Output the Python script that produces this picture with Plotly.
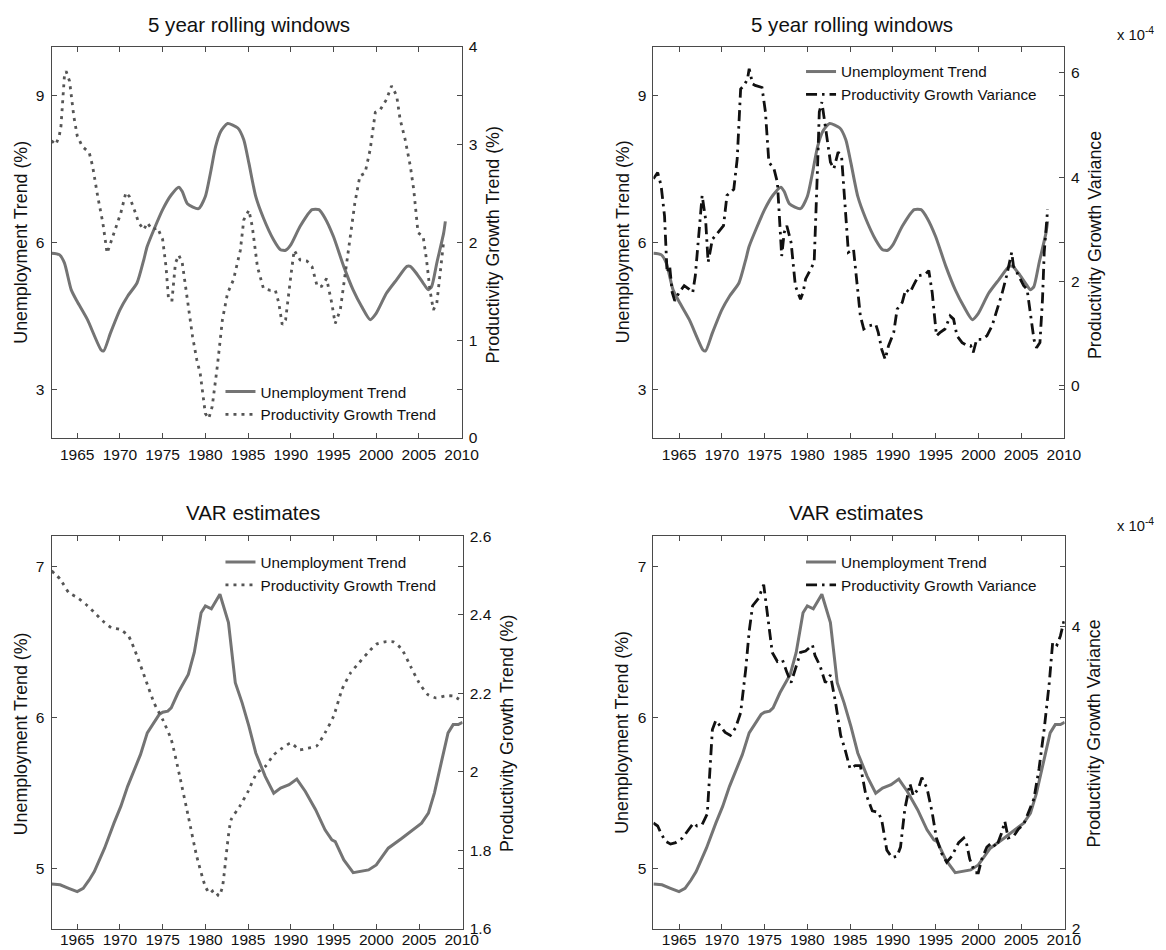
import plotly.graph_objects as go

# ---------------- data ----------------
# Top row: 5 year rolling windows
u5_years = [1962.0, 1962.9, 1963.5, 1964.3, 1965.0, 1966.2, 1967.8, 1968.1, 1968.9, 1970.0,
            1970.9, 1972.0, 1972.8, 1973.2, 1975.0, 1976.0, 1976.9, 1977.3, 1977.9, 1979.2,
            1980.0, 1980.6, 1981.2, 1981.8, 1982.6, 1983.8, 1984.5, 1985.1, 1985.9, 1986.8,
            1988.0, 1988.8, 1989.4, 1990.0, 1991.1, 1992.5, 1993.3, 1994.0, 1995.0, 1996.2,
            1997.3, 1998.3, 1999.3, 2000.0, 2001.2, 2002.4, 2003.6, 2004.0, 2004.7, 2005.5,
            2006.1, 2006.5, 2007.1, 2007.9, 2008.1]
u5_vals = [5.78, 5.75, 5.58, 5.03, 4.79, 4.42, 3.80, 3.78, 4.15, 4.62,
           4.90, 5.17, 5.65, 5.92, 6.67, 6.97, 7.13, 7.04, 6.79, 6.69,
           6.94, 7.42, 7.96, 8.27, 8.43, 8.34, 8.10, 7.62, 6.94, 6.50,
           6.05, 5.85, 5.84, 5.95, 6.33, 6.67, 6.67, 6.50, 6.12, 5.51,
           5.03, 4.69, 4.42, 4.55, 4.96, 5.24, 5.51, 5.51, 5.37, 5.17,
           5.03, 5.10, 5.58, 6.19, 6.43]

pt5_years = [1962.0, 1962.5, 1962.9, 1963.1, 1963.5, 1963.7, 1964.1, 1964.6, 1965.0, 1965.6,
             1966.4, 1966.8, 1967.4, 1968.0, 1968.5, 1968.9, 1969.5, 1970.1, 1970.7, 1971.1,
             1971.7, 1972.2, 1972.8, 1973.2, 1973.8, 1974.4, 1975.0, 1975.4, 1975.7, 1976.1,
             1976.5, 1976.9, 1977.3, 1977.9, 1978.5, 1979.0, 1979.4, 1980.0, 1980.4, 1980.8,
             1981.4, 1982.0, 1982.6, 1983.3, 1984.1, 1984.5, 1985.1, 1985.5, 1986.1, 1986.8,
             1987.6, 1988.2, 1988.6, 1989.0, 1989.4, 1990.0, 1990.4, 1991.1, 1991.9, 1992.5,
             1993.1, 1993.6, 1994.2, 1994.8, 1995.2, 1995.8, 1996.4, 1997.0, 1997.5, 1998.1,
             1998.7, 1999.3, 1999.9, 2000.5, 2001.2, 2001.8, 2002.4, 2002.8, 2003.4, 2004.0,
             2004.4, 2004.9, 2005.5, 2005.9, 2006.3, 2006.7, 2007.1, 2007.5, 2007.9]
pt5_vals = [3.04, 3.00, 3.09, 3.19, 3.70, 3.75, 3.65, 3.29, 3.09, 2.98,
            2.92, 2.78, 2.47, 2.20, 1.89, 1.99, 2.16, 2.30, 2.51, 2.47,
            2.33, 2.20, 2.13, 2.20, 2.13, 2.15, 2.03, 1.75, 1.41, 1.41,
            1.79, 1.87, 1.79, 1.41, 1.04, 0.80, 0.66, 0.25, 0.20, 0.32,
            0.73, 1.21, 1.48, 1.62, 1.92, 2.23, 2.33, 2.16, 1.75, 1.53,
            1.51, 1.51, 1.38, 1.16, 1.21, 1.65, 1.92, 1.82, 1.81, 1.75,
            1.55, 1.55, 1.63, 1.38, 1.17, 1.31, 1.69, 2.03, 2.40, 2.68,
            2.71, 2.95, 3.33, 3.36, 3.46, 3.60, 3.50, 3.26, 3.05, 2.78,
            2.54, 2.10, 2.06, 1.82, 1.51, 1.31, 1.38, 1.69, 2.01]

# productivity growth variance, in units of 1e-4
pv5_years = [1962.0, 1962.5, 1962.9, 1963.3, 1963.6, 1963.9, 1964.2, 1964.5, 1965.0, 1965.6,
             1966.2, 1966.6, 1966.9, 1967.3, 1967.7, 1968.1, 1968.4, 1968.9, 1969.7, 1970.2,
             1970.6, 1971.4, 1971.8, 1972.2, 1972.6, 1973.0, 1973.2, 1973.6, 1973.9, 1974.7,
             1975.1, 1975.5, 1976.1, 1976.5, 1977.0, 1977.3, 1977.6, 1978.1, 1978.6, 1979.2,
             1979.5, 1979.8, 1980.4, 1980.8, 1981.2, 1981.4, 1981.7, 1982.1, 1982.7, 1983.1,
             1983.6, 1984.0, 1984.4, 1984.8, 1985.4, 1985.8, 1986.2, 1986.6, 1987.2, 1988.0,
             1988.3, 1988.7, 1989.1, 1989.5, 1990.1, 1990.5, 1991.1, 1991.5, 1992.0, 1992.4,
             1993.0, 1993.8, 1994.2, 1994.6, 1995.1, 1995.5, 1996.1, 1996.7, 1997.1, 1997.5,
             1998.1, 1998.7, 1999.1, 1999.4, 1999.8, 2000.4, 2001.0, 2001.6, 2002.2, 2002.8,
             2003.3, 2003.9, 2004.1, 2004.7, 2005.3, 2005.7, 2006.1, 2006.5, 2006.8, 2007.2,
             2007.5, 2007.7, 2008.1]
pv5_vals = [3.97, 4.09, 3.84, 3.26, 2.17, 2.30, 1.79, 1.63, 1.79, 1.92,
            1.85, 1.79, 2.11, 2.94, 3.65, 3.20, 2.37, 2.81, 2.97, 3.07,
            3.65, 3.77, 4.35, 5.69, 5.76, 5.88, 6.08, 5.79, 5.76, 5.72,
            5.25, 4.29, 4.16, 3.90, 2.49, 2.94, 3.07, 2.75, 1.92, 1.66,
            1.79, 2.05, 2.24, 2.37, 4.22, 5.25, 5.44, 4.99, 4.29, 4.16,
            4.48, 4.41, 3.45, 2.56, 2.62, 1.98, 1.34, 1.09, 1.15, 1.18,
            1.02, 0.70, 0.51, 0.77, 1.02, 1.47, 1.60, 1.85, 1.79, 1.92,
            2.11, 2.14, 2.21, 1.79, 0.96, 1.02, 1.09, 1.34, 1.28, 0.96,
            0.83, 0.77, 0.77, 0.64, 0.89, 0.89, 0.96, 1.15, 1.47, 1.79,
            2.11, 2.56, 2.30, 2.11, 1.92, 1.85, 1.41, 0.89, 0.73, 0.83,
            1.66, 2.56, 3.39]

# Bottom row: VAR estimates
uv_years = [1962.0, 1963.0, 1964.0, 1965.0, 1965.7, 1966.4, 1967.0, 1968.2, 1969.3, 1970.1,
            1970.9, 1971.7, 1972.4, 1973.2, 1973.8, 1974.6, 1975.0, 1975.6, 1976.0, 1976.8,
            1978.0, 1978.7, 1979.5, 1980.0, 1980.7, 1981.7, 1982.7, 1983.5, 1984.3, 1985.1,
            1985.9, 1987.0, 1988.0, 1988.8, 1989.8, 1990.7, 1991.7, 1992.9, 1994.0, 1994.8,
            1995.2, 1996.2, 1997.3, 1998.1, 1999.1, 2000.0, 2001.4, 2003.0, 2004.1, 2005.3,
            2006.1, 2006.8, 2007.6, 2008.4, 2009.0, 2009.6, 2010.1]
uv_vals = [4.896, 4.890, 4.867, 4.845, 4.867, 4.922, 4.978, 5.133, 5.299, 5.410,
           5.543, 5.653, 5.753, 5.897, 5.950, 6.020, 6.034, 6.041, 6.063, 6.163,
           6.285, 6.430, 6.694, 6.739, 6.720, 6.816, 6.628, 6.230, 6.096, 5.941,
           5.764, 5.609, 5.498, 5.532, 5.554, 5.591, 5.509, 5.388, 5.255, 5.188,
           5.177, 5.055, 4.971, 4.978, 4.989, 5.022, 5.133, 5.199, 5.244, 5.299,
           5.365, 5.498, 5.698, 5.897, 5.952, 5.952, 5.968]

ptv_years = [1962.0, 1963.0, 1964.0, 1965.0, 1966.0, 1967.0, 1968.0, 1969.0, 1970.0, 1971.0,
             1972.0, 1973.0, 1974.0, 1975.0, 1976.0, 1977.0, 1978.0, 1979.0, 1980.0, 1980.5,
             1981.0, 1981.6, 1982.0, 1983.0, 1984.0, 1985.0, 1986.0, 1987.0, 1988.0, 1989.0,
             1990.0, 1991.0, 1992.0, 1993.0, 1994.0, 1995.0, 1996.0, 1997.0, 1998.0, 1999.0,
             2000.0, 2001.0, 2002.0, 2003.0, 2004.0, 2005.0, 2006.0, 2007.0, 2008.0, 2009.0,
             2010.0]
ptv_vals = [2.512, 2.491, 2.457, 2.444, 2.427, 2.406, 2.384, 2.367, 2.363, 2.346,
            2.295, 2.235, 2.175, 2.133, 2.082, 1.988, 1.886, 1.783, 1.707, 1.690,
            1.698, 1.683, 1.707, 1.877, 1.911, 1.950, 1.996, 2.013, 2.043, 2.060,
            2.073, 2.056, 2.060, 2.065, 2.099, 2.141, 2.210, 2.252, 2.278, 2.303,
            2.325, 2.331, 2.331, 2.312, 2.269, 2.227, 2.197, 2.188, 2.193, 2.193,
            2.180]

# productivity growth variance (VAR), in units of 1e-4
pvv_years = [1962.0, 1962.5, 1962.9, 1963.4, 1964.0, 1964.6, 1965.4, 1966.2, 1966.7, 1967.1,
             1967.7, 1968.3, 1968.9, 1969.3, 1969.9, 1970.4, 1971.0, 1971.6, 1972.2, 1972.8,
             1973.2, 1973.6, 1974.3, 1974.9, 1975.3, 1975.9, 1976.5, 1977.1, 1977.6, 1978.1,
             1978.6, 1979.2, 1979.8, 1980.6, 1980.9, 1981.5, 1982.1, 1982.7, 1983.3, 1983.9,
             1984.4, 1985.0, 1985.6, 1986.2, 1986.8, 1987.6, 1988.3, 1988.7, 1989.3, 1989.9,
             1990.5, 1990.9, 1991.4, 1992.0, 1992.4, 1993.0, 1993.4, 1994.0, 1994.6, 1995.1,
             1995.7, 1996.3, 1996.9, 1997.7, 1998.3, 1998.6, 1999.0, 1999.6, 2000.0, 2000.4,
             2001.0, 2001.6, 2002.1, 2002.7, 2003.1, 2003.5, 2004.1, 2004.7, 2005.3, 2005.9,
             2006.5, 2007.1, 2007.7, 2008.3, 2008.7, 2009.2, 2009.6, 2010.1]
pvv_vals = [2.70, 2.68, 2.63, 2.58, 2.56, 2.57, 2.60, 2.66, 2.70, 2.68,
            2.69, 2.76, 3.32, 3.38, 3.34, 3.30, 3.28, 3.33, 3.43, 3.72,
            3.97, 4.14, 4.19, 4.28, 4.10, 3.83, 3.77, 3.78, 3.70, 3.63,
            3.72, 3.83, 3.84, 3.88, 3.81, 3.74, 3.63, 3.68, 3.50, 3.28,
            3.19, 3.06, 3.08, 3.08, 2.90, 2.78, 2.77, 2.72, 2.52, 2.47,
            2.48, 2.54, 2.79, 2.96, 2.88, 2.93, 3.00, 2.93, 2.77, 2.60,
            2.50, 2.44, 2.48, 2.57, 2.60, 2.57, 2.46, 2.37, 2.37, 2.46,
            2.54, 2.57, 2.54, 2.63, 2.71, 2.60, 2.61, 2.66, 2.69, 2.77,
            2.86, 3.06, 3.32, 3.63, 3.90, 3.88, 3.94, 4.06]

year_ticks = [1965, 1970, 1975, 1980, 1985, 1990, 1995, 2000, 2005, 2010]

# ---------------- styling ----------------
W, H = 1166, 950
# the photographed page comes out slightly scaled/offset; compensate
SX, OX = 0.987, 7.0
SY, OY = 0.979, 18.0
FS = 1.0 / 0.983  # font compensation

FONT = "Liberation Sans, Arial, Helvetica, sans-serif"
AX = "#4a4a4a"
U_COLOR = "#747474"
PT_COLOR = "#555555"
PV_COLOR = "#111111"
DOT = "3px,5px"
DASHDOT = "11px,5px,2.5px,5px"


def px_x(p):
    return ((p - OX) / SX) / W


def px_y(p):
    return 1 - ((p - OY) / SY) / H


fig = go.Figure()

# panel 1
fig.add_trace(go.Scatter(x=u5_years, y=u5_vals, name="Unemployment Trend", mode="lines",
                         line=dict(color=U_COLOR, width=3, shape="spline", smoothing=0.6),
                         xaxis="x", yaxis="y", legend="legend"))
fig.add_trace(go.Scatter(x=pt5_years, y=pt5_vals, name="Productivity Growth Trend", mode="lines",
                         line=dict(color=PT_COLOR, width=2.8, dash=DOT),
                         xaxis="x", yaxis="y2", legend="legend"))
# panel 2
fig.add_trace(go.Scatter(x=u5_years, y=u5_vals, name="Unemployment Trend", mode="lines",
                         line=dict(color=U_COLOR, width=3, shape="spline", smoothing=0.6),
                         xaxis="x2", yaxis="y3", legend="legend2"))
fig.add_trace(go.Scatter(x=pv5_years, y=pv5_vals, name="Productivity Growth Variance", mode="lines",
                         line=dict(color=PV_COLOR, width=2.8, dash=DASHDOT),
                         xaxis="x2", yaxis="y4", legend="legend2"))
# panel 3
fig.add_trace(go.Scatter(x=uv_years, y=uv_vals, name="Unemployment Trend", mode="lines",
                         line=dict(color=U_COLOR, width=3),
                         xaxis="x3", yaxis="y5", legend="legend3"))
fig.add_trace(go.Scatter(x=ptv_years, y=ptv_vals, name="Productivity Growth Trend", mode="lines",
                         line=dict(color=PT_COLOR, width=2.8, dash=DOT, shape="spline", smoothing=0.5),
                         xaxis="x3", yaxis="y6", legend="legend3"))
# panel 4
fig.add_trace(go.Scatter(x=uv_years, y=uv_vals, name="Unemployment Trend", mode="lines",
                         line=dict(color=U_COLOR, width=3),
                         xaxis="x4", yaxis="y7", legend="legend4"))
fig.add_trace(go.Scatter(x=pvv_years, y=pvv_vals, name="Productivity Growth Variance", mode="lines",
                         line=dict(color=PV_COLOR, width=2.8, dash=DASHDOT),
                         xaxis="x4", yaxis="y8", legend="legend4"))

tickfont = dict(family=FONT, size=15.3 * FS, color="#111")


def xax(domain, anchor, rng, standoff=2):
    return dict(domain=domain, anchor=anchor, range=rng, tickvals=year_ticks,
                ticks="inside", ticklen=5, tickcolor=AX, showline=True, linecolor=AX,
                linewidth=1, mirror="ticks", showgrid=False, zeroline=False,
                tickfont=tickfont, ticklabelstandoff=standoff)


def yleft(domain, anchor, rng, tv):
    return dict(domain=domain, anchor=anchor, range=rng, tickvals=tv,
                ticks="inside", ticklen=5, tickcolor=AX, showline=True, linecolor=AX,
                linewidth=1, mirror="ticks", showgrid=False, zeroline=False,
                tickfont=tickfont, ticklabelstandoff=3)


def yright(overlay, anchor, rng, tv, tt):
    return dict(overlaying=overlay, anchor=anchor, side="right", range=rng, tickvals=tv,
                ticktext=tt, ticks="inside", ticklen=5, tickcolor=AX, showline=True,
                linecolor=AX, linewidth=1, showgrid=False, zeroline=False,
                tickfont=tickfont, ticklabelstandoff=3)


xl = [px_x(50.7), px_x(461.7)]
xr = [px_x(654.0), px_x(1065.5)]
yt = [px_y(437.7), px_y(47.7)]
yb = [px_y(926.7), px_y(535.7)]

fig.update_layout(
    xaxis=xax(xl, "y", [1962, 2010]),
    yaxis=yleft(yt, "x", [2, 10], [3, 6, 9]),
    yaxis2=yright("y", "x", [0, 4], [0, 1, 2, 3, 4], ["0", "1", "2", "3", "4"]),
    xaxis2=xax(xr, "y3", [1962, 2010]),
    yaxis3=yleft(yt, "x2", [2, 10], [3, 6, 9]),
    yaxis4=yright("y3", "x2", [-1, 6.5], [0, 2, 4, 6], ["0", "2", "4", "6"]),
    xaxis3=xax([px_x(50.7), px_x(462.7)], "y5", [1962, 2010.1], standoff=-3),
    yaxis5=yleft(yb, "x3", [4.6, 7.2], [5, 6, 7]),
    yaxis6=yright("y5", "x3", [1.6, 2.6], [1.6, 1.8, 2.0, 2.2, 2.4, 2.6],
                  ["1.6", "1.8", "2", "2.2", "2.4", "2.6"]),
    xaxis4=xax([px_x(654.0), px_x(1066.3)], "y7", [1962, 2010.1], standoff=-3),
    yaxis7=yleft(yb, "x4", [4.6, 7.2], [5, 6, 7]),
    yaxis8=yright("y7", "x4", [2, 4.6], [2, 4], ["2", "4"]),
)

legfont = dict(family=FONT, size=15 * FS, color="#111")


def leg(xp, yp):
    return dict(x=px_x(xp), y=px_y(yp), xanchor="left", yanchor="top",
                bgcolor="rgba(0,0,0,0)", borderwidth=0, font=legfont,
                tracegroupgap=0, itemwidth=30)


fig.update_layout(
    legend=leg(220, 375),
    legend2=leg(802, 56),
    legend3=leg(220, 545),
    legend4=leg(802, 545),
    showlegend=True,
)

ann = []
titlefont = dict(family=FONT, size=20.2 * FS, color="#111")
labfont = dict(family=FONT, size=17.5 * FS, color="#111")
for txt, xp, yp in [("5 year rolling windows", 249, 25), ("5 year rolling windows", 853, 25),
                    ("VAR estimates", 253, 512), ("VAR estimates", 857, 512)]:
    ann.append(dict(text=txt, x=px_x(xp), y=px_y(yp), xref="paper", yref="paper",
                    showarrow=False, xanchor="center", yanchor="middle", font=titlefont))
for txt, xp, yp in [("Unemployment Trend (%)", 20, 242), ("Unemployment Trend (%)", 623, 242),
                    ("Unemployment Trend (%)", 20, 732), ("Unemployment Trend (%)", 623, 731),
                    ("Productivity Growth Trend (%)", 493, 245),
                    ("Productivity Growth Variance", 1096, 245),
                    ("Productivity Growth Trend (%)", 507, 732),
                    ("Productivity Growth Variance", 1096, 732)]:
    ann.append(dict(text=txt, x=px_x(xp), y=px_y(yp), xref="paper", yref="paper",
                    showarrow=False, xanchor="center", yanchor="middle", textangle=-90,
                    font=labfont))
for yp in [35, 524]:
    ann.append(dict(text="x 10<sup>-4</sup>", x=px_x(1117), y=px_y(yp), xref="paper",
                    yref="paper", showarrow=False, xanchor="left", yanchor="middle",
                    font=dict(family=FONT, size=14.5 * FS, color="#111")))

fig.update_layout(
    annotations=ann,
    width=W, height=H,
    margin=dict(l=0, r=0, t=0, b=0),
    paper_bgcolor="white", plot_bgcolor="white",
    font=dict(family=FONT, color="#111"),
)

fig.write_html("out.html")
